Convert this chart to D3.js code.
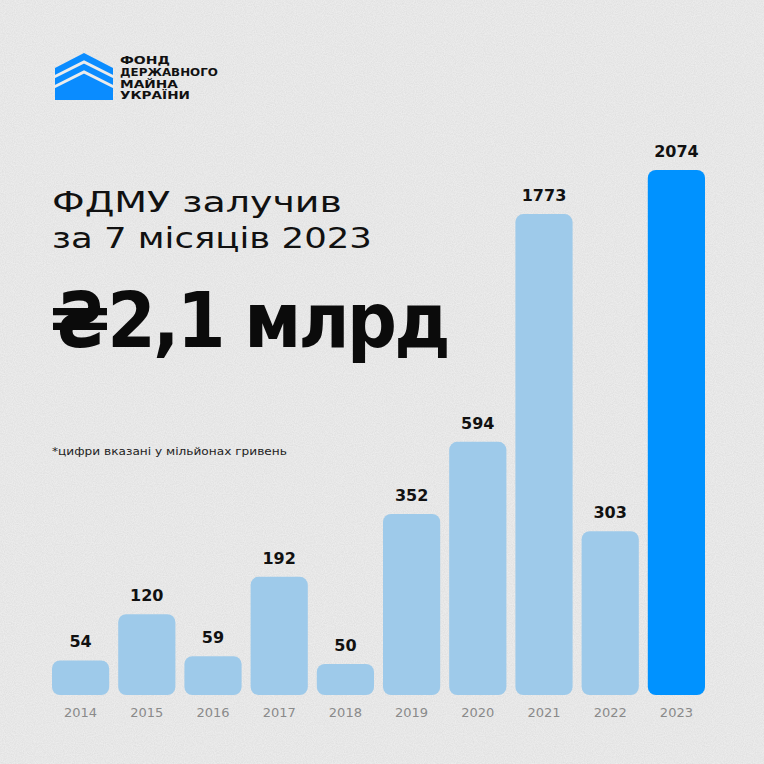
<!DOCTYPE html>
<html lang="uk">
<head>
<meta charset="UTF-8">
<title>ФДМУ залучив за 7 місяців 2023</title>
<style>
  html, body { margin: 0; padding: 0; background: #ececec; }
  svg { display: block; }
</style>
</head>
<body>
<svg id="chart"></svg>
<script src="https://d3js.org/d3.v7.min.js"></script>
<script>
// data, millions of hryvnias
const years = ["2014", "2015", "2016", "2017", "2018", "2019", "2020", "2021", "2022", "2023"];
const values = [54, 120, 59, 192, 50, 352, 594, 1773, 303, 2074];
const highlightYear = "2023";

const titleLines = ["ФДМУ залучив", "за 7 місяців 2023"];
const bigNumber = "₴2,1 млрд";
const footnote = "*цифри вказані у мільйонах гривень";
const logoLines = ["ФОНД", "ДЕРЖАВНОГО", "МАЙНА", "УКРАЇНИ"];

const width = 764, height = 764;
const baseline = 695;
const font = "'DejaVu Sans', sans-serif";

const svg = d3.select("#chart")
  .attr("width", width)
  .attr("height", height);

// stretch a text horizontally so it spans `target` px from (x0, y0)
function fitWidth(text, x0, y0, target) {
  const w = text.node().getComputedTextLength();
  text.attr("x", 0).attr("y", 0)
    .attr("transform", `translate(${x0},${y0}) scale(${target / w},1)`);
}

// paper grain
const defs = svg.append("defs");
const grain = defs.append("filter").attr("id", "grain")
  .attr("x", 0).attr("y", 0).attr("width", "100%").attr("height", "100%");
grain.append("feTurbulence")
  .attr("type", "fractalNoise")
  .attr("baseFrequency", 0.9)
  .attr("numOctaves", 2)
  .attr("seed", 3);
grain.append("feColorMatrix")
  .attr("type", "matrix")
  .attr("values", "0 0 0 0 0  0 0 0 0 0  0 0 0 0 0  0 0 0 -1.4 1.1");

svg.append("rect")
  .attr("width", width).attr("height", height)
  .attr("fill", "#ececec");
svg.append("rect")
  .attr("width", width).attr("height", height)
  .attr("filter", "url(#grain)")
  .attr("opacity", 0.05);

// logo
const logo = svg.append("g");
logo.append("path")
  .attr("d", d3.line()([[55, 68], [84, 53], [113, 68], [113, 100], [55, 100]]) + "Z")
  .attr("fill", "#0a8cff");
[[77, 62], [87, 72]].forEach(([side, apex]) => {
  logo.append("path")
    .attr("d", d3.line()([[54, side], [84, apex], [114, side]]))
    .attr("fill", "none")
    .attr("stroke", "#ececec")
    .attr("stroke-width", 3);
});
const logoWidths = [50, 98, 58, 70];
logoLines.forEach((line, i) => {
  const t = logo.append("text")
    .attr("font-family", font)
    .attr("font-weight", 700)
    .attr("font-size", 10.5)
    .attr("fill", "#111")
    .text(line);
  fitWidth(t, 120, 64 + i * 11.8, logoWidths[i]);
});

// heading
const titleWidths = [290, 320];
titleLines.forEach((line, i) => {
  const t = svg.append("text")
    .attr("font-family", font)
    .attr("font-weight", 400)
    .attr("font-size", 28)
    .attr("fill", "#111")
    .text(line);
  fitWidth(t, 52, 212 + i * 36, titleWidths[i]);
});

const big = svg.append("text")
  .attr("font-family", font)
  .attr("font-weight", 700)
  .attr("font-size", 77)
  .attr("letter-spacing", -3)
  .attr("fill", "#0b0b0b")
  .text(bigNumber);
fitWidth(big, 50, 347, 398);

const note = svg.append("text")
  .attr("font-family", font)
  .attr("font-size", 10.5)
  .attr("fill", "#222")
  .text(footnote);
fitWidth(note, 52, 455, 235);

// scales
const x = d3.scaleBand()
  .domain(years)
  .range([52, 705])
  .paddingInner(0.136);

const y = d3.scaleSqrt()
  .domain([50, 2074])
  .range([baseline - 31, baseline - 525]);

const rows = years.map((yr, i) => ({ year: yr, value: values[i] }));

svg.append("g")
  .selectAll("rect")
  .data(rows)
  .join("rect")
  .attr("x", d => x(d.year))
  .attr("y", d => y(d.value))
  .attr("width", x.bandwidth())
  .attr("height", d => baseline - y(d.value))
  .attr("rx", 8)
  .attr("fill", d => d.year === highlightYear ? "#0092ff" : "#9ecaea");

svg.append("g")
  .selectAll("text")
  .data(rows)
  .join("text")
  .attr("x", d => x(d.year) + x.bandwidth() / 2)
  .attr("y", d => y(d.value) - 13)
  .attr("text-anchor", "middle")
  .attr("font-family", font)
  .attr("font-weight", 700)
  .attr("font-size", 16)
  .attr("fill", "#111")
  .text(d => d.value);

// year axis
const xAxis = svg.append("g")
  .attr("transform", `translate(0,${baseline})`)
  .call(d3.axisBottom(x).tickSize(0).tickPadding(22));
xAxis.select(".domain").remove();
xAxis.selectAll("text")
  .attr("font-family", font)
  .attr("font-size", 13)
  .attr("fill", "#8a8a8a")
  .attr("dy", 0);
</script>
</body>
</html>
